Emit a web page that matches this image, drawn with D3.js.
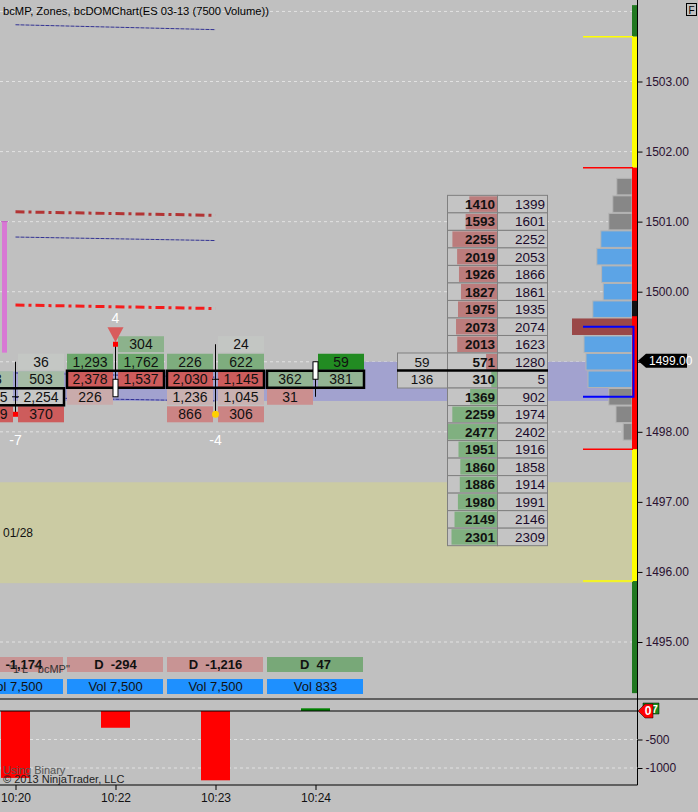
<!DOCTYPE html>
<html>
<head>
<meta charset="utf-8">
<script src="https://cdn.jsdelivr.net/npm/d3@7"></script>
<style>
    body { margin: 0; background: #c0c0c0; }
    svg { display: block; font-family: "Liberation Sans", Arial, sans-serif; }
</style>
</head>
<body>
<svg id="chart" width="698" height="812"></svg>
<script>
// ---- bars (7500 volume) ----
var times = ["10:20", "10:22", "10:23", "10:24"];
var barOpen = [1498.50, 1498.50, 1498.75, 1498.75];
var barHigh = [1499.00, 1499.25, 1499.25, 1499.00];
var barLow = [1498.25, 1498.50, 1498.25, 1498.50];
var barClose = [1498.50, 1498.75, 1498.75, 1499.00];

// footprint per bar: price levels, bid volume, ask volume
var fpPrices = [
    [1499.00, 1498.75, 1498.50, 1498.25],
    [1499.25, 1499.00, 1498.75, 1498.50],
    [1499.25, 1499.00, 1498.75, 1498.50, 1498.25],
    [1499.00, 1498.75, 1498.50]
];
var fpBid = [
    [0, 183, 2245, 1909],
    [0, 1293, 2378, 226],
    [0, 226, 2030, 1236, 866],
    [0, 362, 31]
];
var fpAsk = [
    [36, 503, 2254, 370],
    [304, 1762, 1537, 0],
    [24, 622, 1145, 1045, 306],
    [59, 381, 0]
];

var signalBar = [0, 1, 2];
var signalValue = [-7, 4, -4];

// indicator lines drawn from bar 0 to bar 2
var linePriceStart = [1503.81, 1501.14, 1500.78, 1499.81, 1498.84, 1498.49];
var linePriceEnd = [1503.74, 1501.09, 1500.73, 1499.76, 1498.78, 1498.44];

// DOM ladder
var domPrices = [1501.25, 1501.00, 1500.75, 1500.50, 1500.25, 1500.00, 1499.75, 1499.50, 1499.25, 1499.00,
    1498.75, 1498.50, 1498.25, 1498.00, 1497.75, 1497.50, 1497.25, 1497.00, 1496.75, 1496.50];
var domSize = [1410, 1593, 2255, 2019, 1926, 1827, 1975, 2073, 2013, 571,
    310, 1369, 2259, 2477, 1951, 1860, 1886, 1980, 2149, 2301];
var domPrev = [1399, 1601, 2252, 2053, 1866, 1861, 1935, 2074, 1623, 1280,
    5, 902, 1974, 2402, 1916, 1858, 1914, 1991, 2146, 2309];
var domTradedPrices = [1499.00, 1498.75];
var domTraded = [59, 136];
var bestAsk = 1499.00;
var lastPrice = 1499.00;

// market profile
var profPrices = [1501.50, 1501.25, 1501.00, 1500.75, 1500.50, 1500.25, 1500.00, 1499.75, 1499.50,
    1499.25, 1499.00, 1498.75, 1498.50, 1498.25, 1498.00];
var profVolume = [1900, 2400, 2900, 3900, 4400, 3800, 3600, 4900, 7500, 6000, 5750, 5500, 2900, 2000, 1100];
var vaHigh = 1500.75, vaLow = 1498.75;
var bracketHigh = 1499.50, bracketLow = 1498.50;

// zones
var stripLevels = [1504.09, 1503.64, 1501.77, 1497.75, 1495.87, 1494.27];
var stripMark = [1499.87, 1499.65];
var dayZone = [1497.28, 1495.84];
var dayLabel = "01/28";
var rangeZoneBars = [-0.3, 2.97];
var rangeZoneTop = [1498.86, 1499.00];
var rangeZoneBottom = 1498.44;
var pinkRange = [1501.00, 1499.13];

var gridPrices = [1495, 1496, 1497, 1498, 1499, 1500, 1501, 1502, 1503, 1504];
var lowerTicks = [-500, -1000];

// ---- layout ----
var W = 698, H = 812;
var AXIS_X = 637.5, PANEL_BOTTOM = 699, PLOT_R = 632;
var FONT = "'Liberation Sans', Arial, sans-serif";
var y = d3.scaleLinear().domain([1495, 1503]).range([642, 81.5]);
var ROW = y(1499) - y(1499.25);
var x = d3.scaleLinear().domain([0, 3]).range([15.5, 315.5]);
var yLow = d3.scaleLinear().domain([-1000, 0]).range([768, 711]);
var domW = d3.scaleLinear().domain([0, 2500]).range([0, 50]);
var profW = d3.scaleLinear().domain([0, 7500]).range([0, 60]);
var locale = d3.formatLocale({decimal: ".", thousands: ",", grouping: [3], currency: ["", ""], minus: "-"});
var fmt = locale.format(",");
var fmtPlain = locale.format("d");

var svg = d3.select("#chart");
svg.append("rect").attr("width", W).attr("height", H).attr("fill", "#c0c0c0");
svg.append("defs").append("clipPath").attr("id", "clipTop")
    .append("rect").attr("x", 0).attr("y", 0).attr("width", AXIS_X).attr("height", PANEL_BOTTOM);

var main = svg.append("g").attr("clip-path", "url(#clipTop)");

// gridlines
main.selectAll("line.grid").data(gridPrices).enter().append("line")
    .attr("x1", 0).attr("x2", AXIS_X).attr("y1", function(d) { return y(d); }).attr("y2", function(d) { return y(d); })
    .attr("stroke", "#e2e2e2").attr("stroke-dasharray", "3,3");

// day zone
main.append("rect").attr("x", 0).attr("width", PLOT_R).attr("y", y(dayZone[0]))
    .attr("height", y(dayZone[1]) - y(dayZone[0])).attr("fill", "#cbcba3");
main.append("text").attr("x", 3).attr("y", (y(dayZone[0]) + y(dayZone[1])) / 2).attr("dy", ".36em")
    .attr("font-size", 12).attr("fill", "#111").text(dayLabel);

// range zone (lavender)
rangeZoneBars.forEach(function(b, i) {
    var x0 = i == 0 ? 0 : x(b);
    var x1 = i + 1 < rangeZoneBars.length ? x(rangeZoneBars[i + 1]) : PLOT_R;
    main.append("rect").attr("x", x0).attr("width", x1 - x0)
        .attr("y", y(rangeZoneTop[i])).attr("height", y(rangeZoneBottom) - y(rangeZoneTop[i]))
        .attr("fill", "#a2a2cf");
});

// pink range bar
main.append("rect").attr("x", 2).attr("width", 5).attr("y", y(pinkRange[0]))
    .attr("height", y(pinkRange[1]) - y(pinkRange[0])).attr("fill", "#d878d4");
main.append("line").attr("x1", 1).attr("x2", 8).attr("y1", y(pinkRange[0])).attr("y2", y(pinkRange[0]))
    .attr("stroke", "#c060c0");

// indicator lines
var lineStyles = [
    {c: "#1a1a8c", w: 1, dash: "4,1"},
    {c: "#b01c1c", w: 3, dash: "9,4,3,4"},
    {c: "#1a1a8c", w: 1, dash: "4,1"},
    {c: "#ff0000", w: 3, dash: "9,4,3,4"},
    {c: "#1a1a8c", w: 1, dash: "4,1"},
    {c: "#1a1a8c", w: 1, dash: "4,1"}
];
linePriceStart.forEach(function(p, i) {
    main.append("line").attr("x1", x(0)).attr("x2", x(2))
        .attr("y1", y(p)).attr("y2", y(linePriceEnd[i]))
        .attr("stroke", lineStyles[i].c).attr("stroke-width", lineStyles[i].w)
        .attr("stroke-dasharray", lineStyles[i].dash).attr("opacity", 0.85);
});

// footprint cells
var greenAt = d3.interpolateRgb("#c8c8c8", "#228b22");
var redAt = d3.interpolateRgb("#c8c8c8", "#cd5c5c");
fpPrices.forEach(function(prices, b) {
    var cx = x(b);
    var g = main.append("g");
    var diffs = prices.map(function(p, i) { return fpAsk[b][i] - fpBid[b][i]; });
    var maxDiff = d3.max(diffs, Math.abs);
    prices.forEach(function(p, i) {
        var d = diffs[i];
        var color = d >= 0 ? greenAt(d / maxDiff) : redAt(-d / maxDiff);
        [[fpBid[b][i], cx - 48.5], [fpAsk[b][i], cx + 2.5]].forEach(function(cell) {
            if (!cell[0]) return;
            g.append("rect").attr("x", cell[1]).attr("y", y(p) - 8).attr("width", 46).attr("height", 16)
                .attr("fill", color);
            g.append("text").attr("x", cell[1] + 23).attr("y", y(p)).attr("dy", ".36em")
                .attr("text-anchor", "middle").attr("font-size", 14).attr("fill", "#111")
                .text(fmt(cell[0]));
        });
    });
    var vols = prices.map(function(p, i) { return fpBid[b][i] + fpAsk[b][i]; });
    var poc = prices[d3.maxIndex(vols)];
    g.append("rect").attr("x", cx - 48.5).attr("y", y(poc) - 8.5).attr("width", 97).attr("height", 17)
        .attr("fill", "none").attr("stroke", "#000").attr("stroke-width", 2.5);
});

// candles
times.forEach(function(t, b) {
    var cx = x(b);
    main.append("line").attr("x1", cx).attr("x2", cx).attr("y1", y(barHigh[b])).attr("y2", y(barLow[b]))
        .attr("stroke", "#000");
    if (barOpen[b] == barClose[b]) {
        main.append("line").attr("x1", cx - 3.5).attr("x2", cx + 3.5)
            .attr("y1", y(barOpen[b])).attr("y2", y(barOpen[b])).attr("stroke", "#000");
    } else {
        var top = Math.min(y(barOpen[b]), y(barClose[b]));
        main.append("rect").attr("x", cx - 2.5).attr("width", 5).attr("y", top)
            .attr("height", Math.abs(y(barOpen[b]) - y(barClose[b])))
            .attr("fill", barClose[b] > barOpen[b] ? "#fff" : "#000").attr("stroke", "#000");
    }
});

// signals
var markerColors = ["#ff0000", "#ff0000", "#ffd000"];
signalBar.forEach(function(b, i) {
    var cx = x(b), v = signalValue[i];
    if (v > 0) {
        var yh = y(barHigh[b]);
        main.append("path").attr("d", "M" + (cx - 8) + "," + (yh - 17) + "L" + (cx + 8) + "," + (yh - 17) + "L" + cx + "," + (yh - 2) + "Z")
            .attr("fill", "#d85c5c");
        main.append("rect").attr("x", cx - 2.5).attr("y", yh - 2.5).attr("width", 5).attr("height", 5).attr("fill", markerColors[i]);
        main.append("text").attr("x", cx).attr("y", yh - 26).attr("dy", ".36em").attr("text-anchor", "middle")
            .attr("font-size", 14).attr("fill", "#fff").text(v);
    } else {
        var yl = y(barLow[b]);
        if (i == 2) {
            main.append("circle").attr("cx", cx).attr("cy", yl).attr("r", 3.5).attr("fill", markerColors[i]);
        } else {
            main.append("rect").attr("x", cx - 2.5).attr("y", yl - 2.5).attr("width", 5).attr("height", 5).attr("fill", markerColors[i]);
        }
        main.append("text").attr("x", cx).attr("y", yl + 26).attr("dy", ".36em").attr("text-anchor", "middle")
            .attr("font-size", 14).attr("fill", "#fff").text(fmt(v));
    }
});

// DOM ladder
var dom = main.append("g");
domPrices.forEach(function(p, i) {
    var yt = y(p) - ROW / 2;
    dom.append("rect").attr("x", 447.5).attr("y", yt).attr("width", 50).attr("height", ROW)
        .attr("fill", "#c4c4c4").attr("stroke", "#808080");
    dom.append("rect").attr("x", 497.5 - domW(domSize[i])).attr("y", yt + 1).attr("width", domW(domSize[i]))
        .attr("height", ROW - 2).attr("fill", p >= bestAsk ? "#bb7c7c" : "#80b080");
    dom.append("rect").attr("x", 497.5).attr("y", yt).attr("width", 50).attr("height", ROW)
        .attr("fill", "#c4c4c4").attr("stroke", "#808080");
    dom.append("text").attr("x", 495).attr("y", y(p)).attr("dy", ".36em").attr("text-anchor", "end")
        .attr("font-size", 13.5).attr("font-weight", "bold").attr("fill", "#111").text(domSize[i]);
    dom.append("text").attr("x", 545).attr("y", y(p)).attr("dy", ".36em").attr("text-anchor", "end")
        .attr("font-size", 13.5).attr("fill", "#1a0a2a").text(domPrev[i]);
});
domTradedPrices.forEach(function(p, i) {
    dom.append("rect").attr("x", 397.5).attr("y", y(p) - ROW / 2).attr("width", 50).attr("height", ROW)
        .attr("fill", "#c4c4c4").attr("stroke", "#808080");
    dom.append("text").attr("x", 422).attr("y", y(p)).attr("dy", ".36em").attr("text-anchor", "middle")
        .attr("font-size", 13.5).attr("fill", "#111").text(domTraded[i]);
});
dom.append("line").attr("x1", 397).attr("x2", 548)
    .attr("y1", y(bestAsk) + ROW / 2).attr("y2", y(bestAsk) + ROW / 2)
    .attr("stroke", "#000").attr("stroke-width", 2.5);

// market profile
var pocPrice = profPrices[d3.maxIndex(profVolume)];
profPrices.forEach(function(p, i) {
    var w = profW(profVolume[i]);
    var fill = p == pocPrice ? "#9a4848" : (p <= vaHigh && p >= vaLow ? "#5ca4e6" : "#878787");
    main.append("rect").attr("x", PLOT_R - w).attr("y", y(p) - ROW / 2 + 0.5).attr("width", w)
        .attr("height", ROW - 1).attr("fill", fill)
        .attr("stroke", p == pocPrice ? "none" : "#b4b4b4").attr("stroke-width", 1);
});

// zone strip and level lines
var stripColors = ["#207820", "#ffff00", "#ff0000", "#ffff00", "#207820"];
stripColors.forEach(function(c, i) {
    main.append("rect").attr("x", PLOT_R).attr("width", 5).attr("y", y(stripLevels[i]))
        .attr("height", y(stripLevels[i + 1]) - y(stripLevels[i])).attr("fill", c);
});
main.append("rect").attr("x", PLOT_R).attr("width", 5).attr("y", y(stripMark[0]))
    .attr("height", y(stripMark[1]) - y(stripMark[0])).attr("fill", "#111");
stripLevels.slice(1, 5).forEach(function(p, i) {
    main.append("line").attr("x1", 583).attr("x2", PLOT_R + 1).attr("y1", y(p)).attr("y2", y(p))
        .attr("stroke", i == 0 || i == 3 ? "#ffff00" : "#ff0000").attr("stroke-width", 1.5);
});

// bracket
main.append("path")
    .attr("d", "M583," + y(bracketHigh) + "H633.5V" + y(bracketLow) + "H583")
    .attr("fill", "none").attr("stroke", "#0000ff").attr("stroke-width", 2);

// right price axis (the last price label takes the place of its tick label)
var yAxis = d3.axisRight(y).tickValues(gridPrices.slice(0, 9)).tickSize(5)
    .tickFormat(function(d) { return d == lastPrice ? "" : d3.format(".2f")(d); });
var ax = svg.append("g").attr("transform", "translate(" + AXIS_X + ",0)").call(yAxis);
ax.select(".domain").remove();
ax.selectAll("text").attr("font-size", 12).attr("fill", "#2a1030").attr("font-family", FONT);
ax.selectAll("line").attr("stroke", "#000");
svg.append("line").attr("x1", AXIS_X).attr("x2", AXIS_X).attr("y1", 0).attr("y2", 785).attr("stroke", "#000");

// last price marker
var yp = y(lastPrice) - 1;
svg.append("path").attr("d", "M638," + yp + "L646," + (yp - 7) + "H687V" + (yp + 7) + "H646Z").attr("fill", "#000");
svg.append("text").attr("x", 649).attr("y", yp).attr("dy", ".36em").attr("font-size", 12).attr("fill", "#fff")
    .text(d3.format(".2f")(lastPrice));

// F box
svg.append("rect").attr("x", 686.5).attr("y", 3.5).attr("width", 10).attr("height", 12)
    .attr("fill", "none").attr("stroke", "#000");
svg.append("text").attr("x", 691.5).attr("y", 13.5).attr("text-anchor", "middle").attr("font-size", 10).text("F");

// title
svg.append("text").attr("x", 3).attr("y", 15).attr("font-size", 11.2).attr("fill", "#000")
    .text("bcMP, Zones, bcDOMChart(ES 03-13 (7500 Volume))");

// delta / volume boxes
var deltas = fpAsk.map(function(a, b) { return d3.sum(a) - d3.sum(fpBid[b]); });
var volumes = fpAsk.map(function(a, b) { return d3.sum(a) + d3.sum(fpBid[b]); });
deltas.forEach(function(d, b) {
    var cx = x(b);
    main.append("rect").attr("x", cx - 48.5).attr("y", 657).attr("width", 96).attr("height", 15)
        .attr("fill", d < 0 ? "#c89494" : "#78a878");
    main.append("text").attr("x", cx).attr("y", 664.5).attr("dy", ".36em").attr("text-anchor", "middle")
        .attr("font-size", 13).attr("font-weight", "bold").attr("fill", "#111").attr("xml:space", "preserve")
        .text("D  " + fmt(d));
    main.append("rect").attr("x", cx - 48.5).attr("y", 679).attr("width", 96).attr("height", 15)
        .attr("fill", "#1e90ff");
    main.append("text").attr("x", cx).attr("y", 686.5).attr("dy", ".36em").attr("text-anchor", "middle")
        .attr("font-size", 13).attr("fill", "#111").text("Vol " + fmt(volumes[b]));
});
main.append("text").attr("x", 9).attr("y", 673).attr("font-size", 11).attr("fill", "#333")
    .attr("xml:space", "preserve").text('"1 L  "bcMP"');

// ---- lower panel ----
svg.append("line").attr("x1", 0).attr("x2", W).attr("y1", PANEL_BOTTOM).attr("y2", PANEL_BOTTOM).attr("stroke", "#000");
var low = svg.append("g");
low.selectAll("line.grid").data(lowerTicks).enter().append("line")
    .attr("x1", 0).attr("x2", AXIS_X).attr("y1", function(d) { return yLow(d); }).attr("y2", function(d) { return yLow(d); })
    .attr("stroke", "#e2e2e2").attr("stroke-dasharray", "3,3");
deltas.forEach(function(d, b) {
    low.append("rect").attr("x", x(b) - 14.5).attr("width", 29)
        .attr("y", Math.min(yLow(0), yLow(d))).attr("height", Math.abs(yLow(d) - yLow(0)))
        .attr("fill", d < 0 ? "#ff0000" : "#008000");
});
low.append("line").attr("x1", 0).attr("x2", AXIS_X).attr("y1", yLow(0)).attr("y2", yLow(0)).attr("stroke", "#000");
low.append("line").attr("x1", 0).attr("x2", AXIS_X).attr("y1", 785).attr("y2", 785).attr("stroke", "#000");

var lowAxis = d3.axisRight(yLow).tickValues(lowerTicks).tickFormat(fmtPlain).tickSize(5);
var lax = svg.append("g").attr("transform", "translate(" + AXIS_X + ",0)").call(lowAxis);
lax.select(".domain").remove();
lax.selectAll("text").attr("font-size", 12).attr("fill", "#2a1030").attr("font-family", FONT);

// value tags
var lastDelta = deltas[deltas.length - 1];
svg.append("path").attr("d", "M643,703H659V714H643Z").attr("fill", "#1a8a1a").attr("stroke", "#000").attr("stroke-width", 0.5);
svg.append("text").attr("x", 658).attr("y", 709).attr("dy", ".36em").attr("text-anchor", "end")
    .attr("font-size", 11).attr("font-weight", "bold").attr("fill", "#fff").text(lastDelta);
svg.append("path").attr("d", "M638,711L645,704H653V718H645Z").attr("fill", "#ff0000").attr("stroke", "#000").attr("stroke-width", 0.5);
svg.append("text").attr("x", 648).attr("y", 711).attr("dy", ".36em").attr("text-anchor", "middle")
    .attr("font-size", 12).attr("font-weight", "bold").attr("fill", "#fff").text(0);

low.append("text").attr("x", 3).attr("y", 774).attr("font-size", 11).attr("fill", "#555").text("Using Binary");
low.append("text").attr("x", 3).attr("y", 783).attr("font-size", 11).attr("fill", "#222").text("\u00a9 2013 NinjaTrader, LLC");

// time axis
var xAxis = d3.axisBottom(x).tickValues([0, 1, 2, 3]).tickFormat(function(i) { return times[i]; }).tickSize(5);
var tax = svg.append("g").attr("transform", "translate(0,785)").call(xAxis);
tax.select(".domain").remove();
tax.selectAll("text").attr("font-size", 12).attr("fill", "#111").attr("font-family", FONT);
</script>
</body>
</html>
